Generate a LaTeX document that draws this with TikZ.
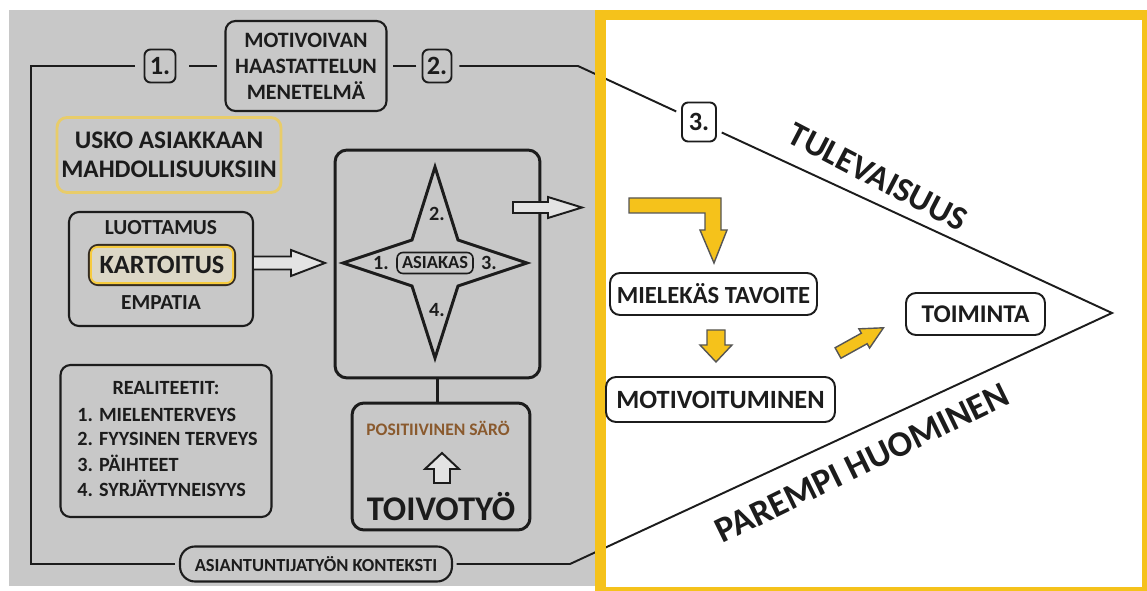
\documentclass[tikz,border=0pt]{standalone}
\usepackage{fontspec}
\setmainfont{Carlito}
\usepackage{xcolor}
\usepackage{tikz}
\usetikzlibrary{calc}
\definecolor{panel-gray}{HTML}{C8C8C8}
\definecolor{frame-gold}{HTML}{F5C21B}
\definecolor{soft-gold}{HTML}{E8CC6A}
\definecolor{ink}{HTML}{1C1C1C}
\definecolor{saro-brown}{HTML}{8A5A2E}
\definecolor{kart-fill}{HTML}{DCD7C6}
\newcommand{\fsz}[2]{\fontsize{#1}{#2}\selectfont}

\begin{document}
\begin{tikzpicture}[x=0.02cm, y=-0.02cm,
    txt/.style={font=\bfseries, text=ink, inner sep=0pt},
    numbox/.style={draw=ink, line width=1.1pt, rounded corners=1.2mm, fill=#1,
        minimum width=0.62cm, minimum height=0.66cm, inner sep=0pt,
        font=\bfseries\fsz{15}{16}, text=ink},
    numbox/.default=panel-gray,
    hold/.style={draw=ink, line width=1.2pt, rounded corners=2mm, inner sep=0pt,
        text=ink, align=center},
    bigbox/.style={draw=ink, line width=1.7pt, rounded corners=2.4mm, inner sep=0pt},
    goal/.style={draw=ink, line width=1.1pt, rounded corners=2mm, fill=white,
        inner sep=0pt, text=ink},
    hollow/.style={draw=ink, line width=1.1pt, fill=gray!22, line join=miter},
    yarrow/.style={draw=ink!75, line width=0.8pt, fill=frame-gold, line join=miter},
    course/.style={draw=ink, line width=1.1pt},
]
    \useasboundingbox (0,0) rectangle (1147,591);
    \clip (0,0) rectangle (1147,591);

    % Panels
    \fill[panel-gray] (9,10) rectangle (597,586);
    \fill[white] (600,15) rectangle (1147,592);

    % Method and numbered steps
    \node[numbox] (n1) at (160,66) {1.};
    \node[hold, minimum width=3.22cm, minimum height=1.8cm,
          font=\bfseries\fsz{12.5}{14.7}] (method) at (306,66)
        {MOTIVOIVAN\\HAASTATTELUN\\MENETELMÄ};
    \node[numbox, minimum width=0.58cm] (n2) at (437,66) {2.};
    \node[numbox=white, minimum width=0.68cm, minimum height=0.78cm] (n3) at (699,122) {3.};

    % Context
    \node[hold, rounded corners=3mm, minimum width=5.44cm, minimum height=0.7cm,
          font=\bfseries\fsz{10.5}{12}] (context) at (316,564) {ASIANTUNTIJATYÖN KONTEKSTI};

    \coordinate (tl) at (31,66);
    \coordinate (bl) at (31,564);
    \coordinate (tr) at (578,66);
    \coordinate (br) at (570,564);
    \coordinate (tip) at (1112,313);

    % Course lines
    \draw[course, shorten <=5pt, shorten >=2pt] (n1) -- (tl) -- (bl) -- (context);
    \draw[course, shorten <=2pt, shorten >=3pt] (context) -- (br) -- (tip) -- (n3);
    \draw[course, shorten <=3pt, shorten >=4pt] (n3) -- (tr) -- (n2);
    \draw[course, shorten <=3pt, shorten >=3pt] (n2) -- (method);
    \draw[course, shorten <=4pt, shorten >=7pt] (method) -- (n1);

    % Belief
    \node[draw=soft-gold, line width=1.6pt, rounded corners=2mm, minimum width=4.48cm,
          minimum height=1.5cm, align=center, font=\bfseries\fsz{14.4}{16.4},
          text=ink, inner sep=0pt] (belief) at (169,155) {USKO ASIAKKAAN\\MAHDOLLISUUKSIIN};

    % Trust, mapping, empathy
    \node[hold, minimum width=3.68cm, minimum height=2.28cm] (trust) at (161,269) {};
    \node[txt, font=\bfseries\fsz{12.2}{14}] (luott) at (161,228) {LUOTTAMUS};
    \node[draw=ink!85!brown, line width=1.2pt, fill=kart-fill, rounded corners=1.8mm,
          minimum width=2.92cm, minimum height=0.8cm, inner sep=0pt,
          font=\bfseries\fsz{15}{16}, text=ink] (kart) at (162,265) {KARTOITUS};
    \draw[frame-gold!85!white, line width=1.1pt, rounded corners=1.3mm]
        ($(kart.south west)+(3,-3)$) rectangle ($(kart.north east)+(-3,3)$);
    \node[txt, font=\bfseries\fsz{12.2}{14}] (empatia) at (161,303) {EMPATIA};

    % Realities
    \node[hold, minimum width=4.22cm, minimum height=3.04cm] (real) at (166,441) {};
    \node[txt, font=\bfseries\fsz{11.5}{13}] (realtitle) at (166,388) {REALITEETIT:};
    \foreach \i/\entry in {0/1. MIELENTERVEYS, 1/2. FYYSINEN TERVEYS,
                           2/3. PÄIHTEET, 3/4. SYRJÄYTYNEISYYS} {
        \node[txt, anchor=west, font=\bfseries\fsz{11.5}{13}] (real\i) at (77,415+24.4*\i) {\entry};
    }

    % Client star
    \node[bigbox, minimum width=4.1cm, minimum height=4.56cm] (starbox) at (437.5,264) {};
    \draw[draw=ink, line width=1.7pt, line join=miter]
        (435,167) -- (458,240) -- (527,263) -- (458,286) -- (435,358)
        -- (412,286) -- (343,263) -- (412,240) -- cycle;
    \node[draw=ink, line width=0.9pt, rounded corners=1.2mm, minimum width=1.52cm,
          minimum height=0.42cm, inner sep=0pt, font=\bfseries\fsz{10.5}{12}, text=ink]
        (client) at (435,263) {ASIAKAS};
    \node[txt, font=\bfseries\fsz{11.5}{13}] (s1) at (381,263) {1.};
    \node[txt, font=\bfseries\fsz{11.5}{13}] (s2) at (437,214) {2.};
    \node[txt, font=\bfseries\fsz{11.5}{13}] (s3) at (489,263) {3.};
    \node[txt, font=\bfseries\fsz{11.5}{13}] (s4) at (437,310) {4.};

    % Hope work
    \node[bigbox, minimum width=3.56cm, minimum height=2.54cm] (hope) at (441,466.5) {};
    \draw[course, line width=1.4pt] (starbox.south) -- (starbox.south |- hope.north);
    \node[txt, text=saro-brown, font=\bfseries\fsz{10}{12}] (saro) at (438,428) {POSITIIVINEN SÄRÖ};
    \node[txt, font=\bfseries\fsz{19.7}{22}] (toivo) at (441,507) {TOIVOTYÖ};
    \draw[hollow] (442,453) -- (459,469) -- (450,469) -- (450,483) -- (434,483)
        -- (434,469) -- (425,469) -- cycle;

    % Hollow arrows
    \draw[hollow, shift={(253,263)}] (0,-6.5) -- (38,-6.5) -- (38,-13) -- (72,0)
        -- (38,13) -- (38,6.5) -- (0,6.5) -- cycle;
    \draw[hollow, shift={(513,207.5)}] (0,-5.5) -- (35,-5.5) -- (35,-10.5) -- (69,0)
        -- (35,10.5) -- (35,5.5) -- (0,5.5) -- cycle;

    % Frame of the future side
    \draw[frame-gold, line width=0.21cm] (600.5,15) rectangle (1147,592);

    % Goal chain
    \node[goal, minimum width=4.14cm, minimum height=0.84cm,
          font=\bfseries\fsz{14}{16}] (goal) at (713.5,294) {MIELEKÄS TAVOITE};
    \node[goal, minimum width=4.58cm, minimum height=0.9cm,
          font=\bfseries\fsz{15}{17}] (motiv) at (720.5,399.5) {MOTIVOITUMINEN};
    \node[goal, minimum width=2.78cm, minimum height=0.84cm,
          font=\bfseries\fsz{14.5}{16}] (action) at (975.5,314) {TOIMINTA};

    \draw[yarrow] (629,198) -- (721,198) -- (721,230) -- (727,230) -- (714,263)
        -- (700,230) -- (705,230) -- (705,213) -- (629,213) -- cycle;
    \draw[yarrow] (707,330) -- (725,330) -- (725,345) -- (732,345) -- (716,362)
        -- (700,345) -- (707,345) -- cycle;
    \draw[yarrow, shift={(838,353)}, rotate=29] (0,-6) -- (30,-6) -- (30,-11) -- (52,0)
        -- (30,11) -- (30,6) -- (0,6) -- cycle;

    % Future and better tomorrow
    \node[txt, rotate=-27.5, font=\bfseries\fsz{19.5}{22}] (future) at (878,177) {TULEVAISUUS};
    \node[txt, rotate=26, font=\bfseries\fsz{20.5}{23}] (tomorrow) at (862,463) {PAREMPI HUOMINEN};

\end{tikzpicture}
\end{document}
